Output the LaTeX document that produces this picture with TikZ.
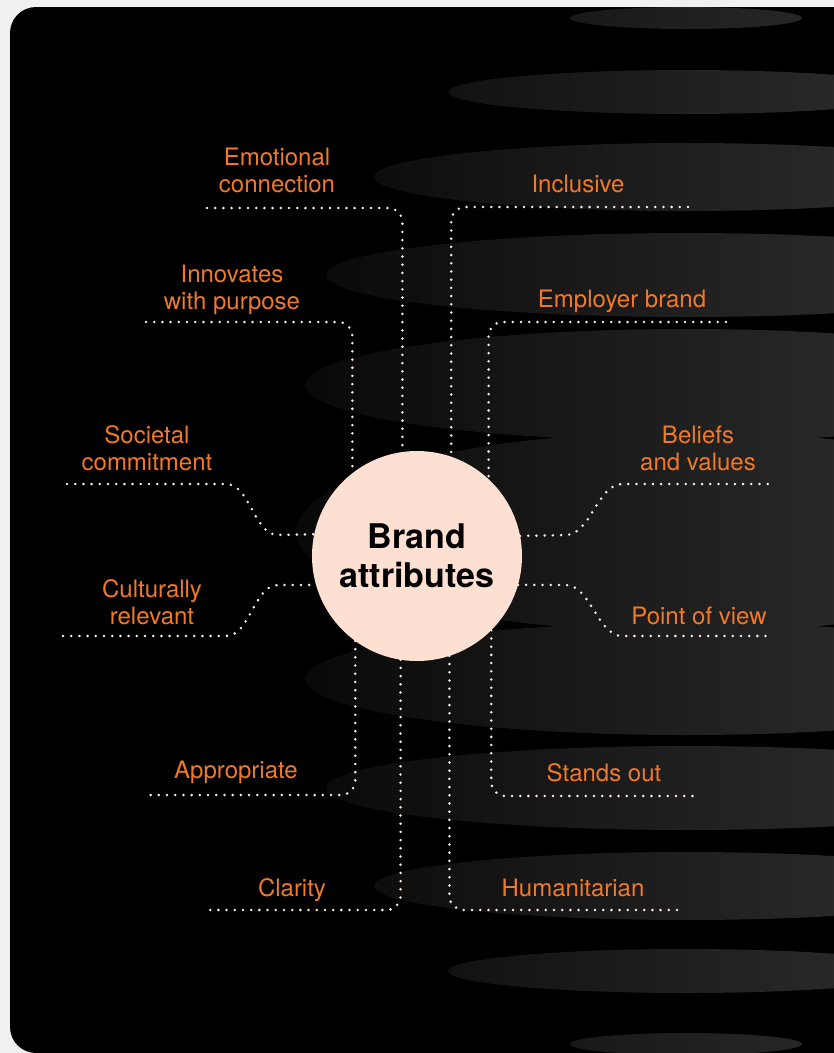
\documentclass[tikz,border=0pt]{standalone}
\usepackage{fontspec}
\setmainfont{TeX Gyre Heros}
\definecolor{lblcol}{RGB}{240,121,42}
\definecolor{dotc}{RGB}{253,238,228}
\definecolor{peach}{RGB}{253,224,209}
\definecolor{pagebg}{RGB}{240,240,240}
\definecolor{shL}{RGB}{8,8,8}
\definecolor{shR}{RGB}{40,40,40}
\newcommand{\twol}[2]{\begin{tabular}[t]{@{}c@{}}#1\\#2\end{tabular}}
\begin{document}
\begin{tikzpicture}[x=1pt,y=-1pt,
  lbl/.style={text=lblcol, font=\fontsize{24}{27}\selectfont, anchor=base, inner sep=0pt},
  dotline/.style={draw=dotc, line width=2.8pt, line cap=round, dash pattern=on 0pt off 8.2pt},
  elbow/.style={rounded corners=14pt}]
\useasboundingbox (0,0) rectangle (834,1053);
\fill[pagebg] (0,0) rectangle (834,1053);
\fill[black, rounded corners=26pt] (10,7) rectangle (900,1053);
% background ellipses
\begin{scope}
\clip (686,18) ellipse [x radius=116pt, y radius=11pt]
      (686,92) ellipse [x radius=238pt, y radius=22pt]
      (686,177) ellipse [x radius=312pt, y radius=34pt]
      (686,275) ellipse [x radius=360pt, y radius=42pt]
      (686,385) ellipse [x radius=381pt, y radius=56pt]
      (686,532) ellipse [x radius=390pt, y radius=100pt]
      (686,679) ellipse [x radius=381pt, y radius=56pt]
      (686,788) ellipse [x radius=360pt, y radius=42pt]
      (686,886) ellipse [x radius=312pt, y radius=34pt]
      (686,971) ellipse [x radius=238pt, y radius=22pt]
      (686,1044) ellipse [x radius=116pt, y radius=11pt];
\shade[left color=shL, right color=shR] (290,0) rectangle (834,1053);
\end{scope}
% centre
\node[circle, fill=peach, minimum size=210pt, inner sep=0pt, outer sep=0pt, align=center,
      font=\bfseries\fontsize{34}{39}\selectfont] (ba) at (417,556) {Brand\\attributes};
% labels
\node[lbl] (emo) at (277,165) {\twol{Emotional}{connection}};
\node[lbl] (inn) at (232,282) {\twol{Innovates}{with purpose}};
\node[lbl] (inc) at (578,192) {Inclusive};
\node[lbl] (emp) at (622,307) {Employer brand};
\node[lbl] (soc) at (147,443) {\twol{Societal}{commitment}};
\node[lbl] (cul) at (152,597) {\twol{Culturally}{relevant}};
\node[lbl] (bel) at (698,443) {\twol{Beliefs}{and values}};
\node[lbl] (pov) at (699,624) {Point of view};
\node[lbl] (app) at (236,778) {Appropriate};
\node[lbl] (cla) at (292,896) {Clarity};
\node[lbl] (sta) at (604,781) {Stands out};
\node[lbl] (hum) at (573,896) {Humanitarian};
% line ends
\coordinate (emoS) at (207,208);
\coordinate (innS) at (146,322);
\coordinate (incS) at (688,207);
\coordinate (empS) at (726,322);
\coordinate (socS) at (67,484);
\coordinate (culS) at (63,636);
\coordinate (belS) at (775,484);
\coordinate (povS) at (771,636);
\coordinate (appS) at (143,795);
\coordinate (claS) at (208,910);
\coordinate (staS) at (698,796);
\coordinate (humS) at (682,910);
% connectors
\draw[dotline, elbow] (emoS) -| (ba.98.8);
\draw[dotline, elbow] (innS) -| (ba.128.9);
\draw[dotline, elbow] (incS) -| (ba.71.7);
\draw[dotline, elbow] (empS) -| (ba.47.5);
\draw[dotline] (socS) -- (226,484) .. controls (250,484) and (254,535) .. (278,535) -- (ba.168.5);
\draw[dotline] (culS) -- (226,636) .. controls (250,636) and (254,585) .. (278,585) -- (ba.196);
\draw[dotline] (ba.11.5) -- (566,535) .. controls (590,535) and (598,484) .. (622,484) -- (belS);
\draw[dotline] (ba.344) -- (566,585) .. controls (590,585) and (598,636) .. (622,636) -- (povS);
\draw[dotline, elbow] (ba.234.5) |- (appS);
\draw[dotline, elbow] (ba.261.2) |- (claS);
\draw[dotline, elbow] (ba.288.3) |- (humS);
\draw[dotline, elbow] (ba.315.6) |- (staS);
\end{tikzpicture}
\end{document}
